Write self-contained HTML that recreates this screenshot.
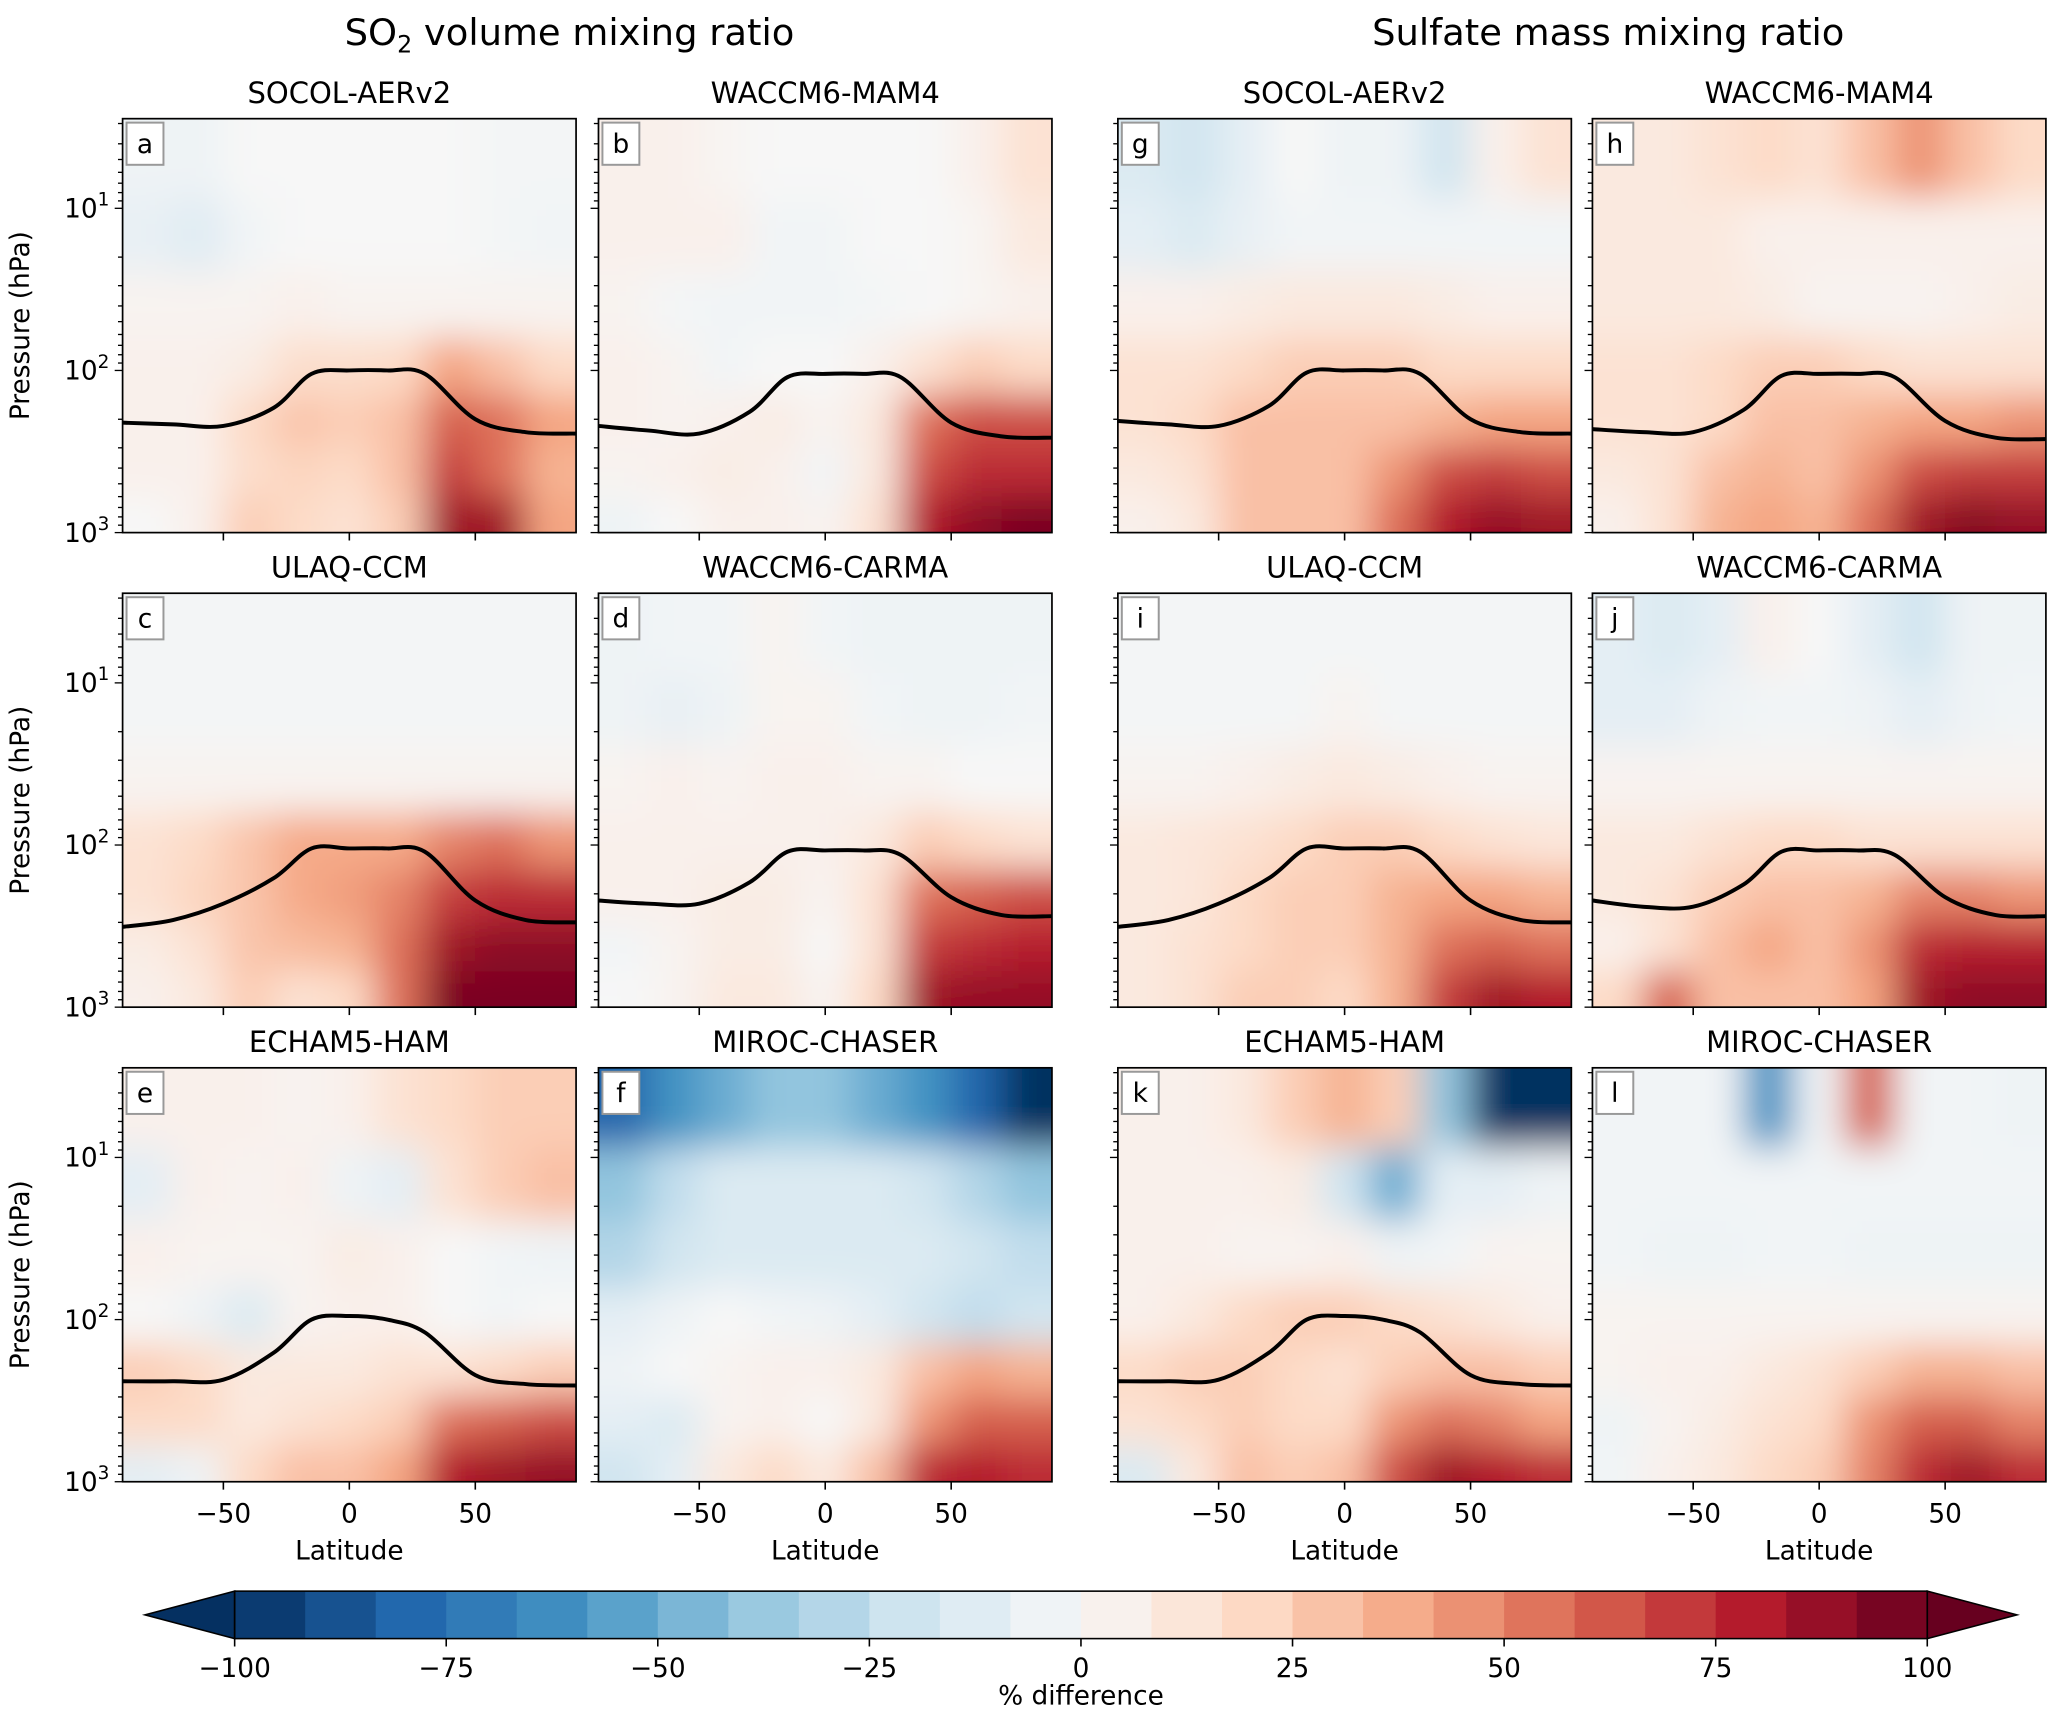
<!DOCTYPE html>
<html><head><meta charset="utf-8"><style>
html,body{margin:0;padding:0;background:#fff}
svg{display:block}
text{font-family:"DejaVu Sans","Liberation Sans",sans-serif;fill:#000}
</style></head><body>
<svg id="fig" xmlns="http://www.w3.org/2000/svg" width="2067" height="1723" viewBox="0 0 1568 1307">
<defs><filter id="bl" x="-20%" y="-20%" width="140%" height="140%"><feGaussianBlur stdDeviation="14"/></filter></defs>
<text x="432" y="34" font-size="28" text-anchor="middle">SO<tspan font-size="18" dy="6">2</tspan><tspan dy="-6"> volume mixing ratio</tspan></text>
<text x="1220" y="34" font-size="28" text-anchor="middle">Sulfate mass mixing ratio</text>
<g id="panels"></g>
<g id="cbar"></g>
</svg>
<script>
const pLevels=[5,15,40,100,200,450,800];
const lats=[-80,-60,-40,-20,0,20,40,60,80];
const tpLats=[-90,-70,-50,-30,-15,0,15,30,50,70,90];
const panelIds=['a','b','c','d','e','f','g','h','i','j','k','l'];
const panelTitles=['SOCOL-AERv2','WACCM6-MAM4','ULAQ-CCM','WACCM6-CARMA','ECHAM5-HAM','MIROC-CHASER','SOCOL-AERv2','WACCM6-MAM4','ULAQ-CCM','WACCM6-CARMA','ECHAM5-HAM','MIROC-CHASER'];
const vals_a=[[-5,-5,0,0,0,0,0,-2,-2],[-8,-12,-3,0,0,0,0,-2,-3],[3,3,3,5,3,3,3,3,3],[5,5,8,18,18,20,40,30,20],[5,5,20,28,25,30,60,55,40],[5,5,18,22,20,30,70,55,35],[0,5,25,20,15,25,85,85,40]];
const vals_b=[[5,5,2,0,0,0,0,5,15],[5,5,5,-3,-3,0,0,2,10],[3,-2,-3,-3,-3,-2,0,2,5],[5,3,-3,0,0,5,15,25,20],[5,3,5,8,3,10,55,65,65],[3,5,8,5,-3,10,65,75,75],[-5,0,5,5,3,15,80,90,95]];
const vals_c=[[-2,-2,-2,-2,-2,-2,-2,-2,-2],[-2,-2,-2,-2,-2,-2,-2,-2,-2],[3,3,3,3,3,3,3,3,3],[15,20,28,38,38,38,50,55,45],[15,22,28,38,42,50,70,75,75],[8,15,28,32,35,55,85,90,90],[5,10,25,15,20,55,95,95,95]];
const vals_d=[[-5,-3,-3,3,-3,-5,-5,-5,-5],[-5,-8,-5,3,3,-3,-5,-5,-3],[3,5,3,5,5,3,3,0,0],[5,5,5,5,5,10,25,20,15],[5,5,8,8,3,15,55,60,65],[-3,3,8,8,0,15,70,75,78],[0,3,10,10,3,20,85,88,88]];
const vals_e=[[5,5,5,3,5,15,20,25,25],[-10,5,3,5,-5,-10,15,25,30],[5,3,3,3,8,5,0,-3,-5],[0,-5,-15,3,5,5,0,-3,0],[25,20,10,10,10,15,15,20,25],[20,20,10,15,20,25,55,60,65],[-10,-5,20,30,30,40,80,85,88]];
const vals_f=[[-80,-60,-50,-40,-40,-50,-60,-80,-100],[-40,-25,-15,-15,-15,-15,-20,-30,-40],[-30,-20,-15,-15,-15,-15,-15,-20,-25],[-10,-5,0,-3,-5,-10,-20,-25,-20],[-5,0,3,5,5,10,30,40,35],[-10,-15,3,5,0,10,45,60,60],[-20,-10,10,20,10,30,75,80,75]];
const vals_g=[[-15,-20,-10,0,-5,-5,-20,5,15],[-10,-15,-8,-3,-3,-3,-3,-3,-3],[5,5,8,10,10,10,8,5,5],[15,15,20,25,25,25,20,20,20],[15,20,30,30,30,30,35,40,40],[10,15,30,30,30,45,65,70,65],[5,10,30,30,30,55,80,88,85]];
const vals_h=[[10,10,15,20,15,30,45,30,20],[10,10,10,5,5,5,5,5,5],[10,10,10,8,3,3,3,5,8],[15,15,20,25,25,20,15,15,15],[15,15,20,30,30,35,40,40,45],[10,15,30,35,30,45,65,70,70],[5,15,35,40,35,55,85,92,88]];
const vals_i=[[-2,-2,-2,-2,-2,-2,-2,-2,-2],[-2,-2,-2,-2,3,-2,-2,-2,-2],[3,3,5,8,10,8,5,3,3],[10,12,15,20,25,25,20,15,12],[10,12,20,25,25,35,40,40,35],[10,15,20,25,25,35,55,60,55],[10,15,25,25,20,35,70,85,80]];
const vals_j=[[-10,-15,-10,5,0,-10,-20,-5,-5],[-10,-10,-5,-3,-3,-5,-10,-5,-3],[3,3,3,3,3,3,3,3,3],[10,10,15,20,20,15,15,15,15],[10,15,25,30,30,35,50,50,45],[5,15,30,40,30,45,75,78,78],[20,60,30,30,30,40,85,90,90]];
const vals_k=[[5,5,10,25,35,25,-40,-100,-100],[5,5,5,8,-20,-50,-10,-10,-5],[5,5,3,3,5,-5,-3,3,3],[5,10,20,25,25,20,15,10,5],[20,25,25,20,15,25,30,30,25],[15,20,25,20,20,45,55,50,40],[-15,10,30,25,30,65,85,80,75]];
const vals_l=[[-3,-3,-3,-60,-3,60,-3,-3,-5],[-3,-3,-3,-3,-3,-3,-3,-3,-3],[-3,-5,-5,-3,-3,-5,-5,-5,-5],[3,3,3,3,3,3,3,3,3],[3,5,5,10,15,25,35,35,30],[-5,3,8,15,20,45,60,60,50],[-3,5,10,20,25,50,75,85,75]];
const tp_a=[210,215,220,170,105,100,100,105,200,240,245];
const tp_b=[220,235,245,180,110,105,105,110,210,255,260];
const tp_c=[320,290,230,160,105,105,105,110,220,290,300];
const tp_d=[220,230,230,170,110,108,108,115,210,270,275];
const tp_e=[240,240,235,160,100,95,100,120,220,250,255];
const tp_g=[205,215,220,165,103,100,100,105,200,240,245];
const tp_h=[230,240,240,175,108,105,105,110,205,260,265];
const tp_i=[320,290,230,160,105,105,105,110,220,290,300];
const tp_j=[220,240,240,175,110,108,108,115,210,270,275];
const tp_k=[240,240,235,160,100,95,100,120,220,250,255];
const allVals=[vals_a,vals_b,vals_c,vals_d,vals_e,vals_f,vals_g,vals_h,vals_i,vals_j,vals_k,vals_l];
const allTp=[tp_a,tp_b,tp_c,tp_d,tp_e,null,tp_g,tp_h,tp_i,tp_j,tp_k,null];
const cbTicks=[-100,-75,-50,-25,0,25,50,75,100];

const stops=['#053061','#2166ac','#4393c3','#92c5de','#d1e5f0','#f7f7f7','#fddbc7','#f4a582','#d6604d','#b2182b','#67001f'];
function hx(c){return [1,3,5].map(i=>parseInt(c.substr(i,2),16));}
function cmap(v){let t=(Math.max(-100,Math.min(100,v))+100)/200*10;let i=Math.min(9,Math.floor(t));let f=t-i;const a=hx(stops[i]),b=hx(stops[i+1]);return 'rgb('+a.map((x,k)=>Math.round(x+(b[k]-x)*f)).join(',')+')';}
const NS='http://www.w3.org/2000/svg';
function mk(tag,attrs,parent){const e=document.createElementNS(NS,tag);for(const k in attrs)e.setAttribute(k,attrs[k]);if(parent)parent.appendChild(e);return e;}
const colX=[93,454,848,1208],rowY=[90,450,810],W=344,H=314,DEC=123;
const root=document.getElementById('panels');
panelIds.forEach((id,n)=>{
  const col=n<6?(n%2):(2+(n-6)%2), row=n<6?Math.floor(n/2):Math.floor((n-6)/2);
  const x0=colX[col],y0=rowY[row];
  const xs=lat=>x0+(lat+90)/180*W;
  const ys=p=>y0+H-(3-Math.log10(p))*DEC;
  const g=mk('g',{},root);
  
  
  const cp=mk('clipPath',{id:'cp'+id},g);mk('rect',{x:x0,y:y0,width:W,height:H},cp);
  const clipG=mk('g',{'clip-path':'url(#cp'+id+')'},g);
  mk('rect',{x:x0,y:y0,width:W,height:H,fill:'#f7f7f7'},clipG);
  const bg=mk('g',{filter:'url(#bl)'},clipG);
  const vals=allVals[n];
  vals.forEach((r,i)=>{
    const pt=i==0?0.5:Math.sqrt(pLevels[i-1]*pLevels[i]);
    const pb=i==pLevels.length-1?3000:Math.sqrt(pLevels[i]*pLevels[i+1]);
    r.forEach((v,j)=>{
      const l0=j==0?-130:(lats[j-1]+lats[j])/2, l1=j==lats.length-1?130:(lats[j]+lats[j+1])/2;
      const c=mk('rect',{x:xs(l0),y:ys(pt),width:xs(l1)-xs(l0)+0.5,height:ys(pb)-ys(pt)+0.5,fill:cmap(v)},bg);
      
      
    });
  });
  const tp=allTp[n];
  if(tp){
    const P=tpLats.map((l,k)=>[xs(l),ys(tp[k])]);
    let d='M'+P[0][0].toFixed(1)+','+P[0][1].toFixed(1);
    for(let k=0;k<P.length-1;k++){
      const p0=P[Math.max(0,k-1)],p1=P[k],p2=P[k+1],p3=P[Math.min(P.length-1,k+2)];
      const c1=[p1[0]+(p2[0]-p0[0])/6,p1[1]+(p2[1]-p0[1])/6],c2=[p2[0]-(p3[0]-p1[0])/6,p2[1]-(p3[1]-p1[1])/6];
      d+='C'+c1.map(v=>v.toFixed(1)).join(',')+' '+c2.map(v=>v.toFixed(1)).join(',')+' '+p2.map(v=>v.toFixed(1)).join(',');
    }
    const tl=mk('path',{d:d,fill:'none',stroke:'#000','stroke-width':3,'stroke-linejoin':'round'},clipG);
    
    
  }
  mk('rect',{x:x0,y:y0,width:W,height:H,fill:'none',stroke:'#000','stroke-width':1.3},g);
  const lb=mk('g',{},g);
  
  
  mk('rect',{x:x0+3,y:y0+3,width:28,height:32,fill:'#fff',stroke:'#999','stroke-width':1.5},lb);
  const lt=mk('text',{x:x0+17,y:y0+26,'font-size':20,'text-anchor':'middle'},lb);lt.textContent=id;
  const tt=mk('text',{x:x0+W/2,y:y0-12,'font-size':22,'text-anchor':'middle'},g);tt.textContent=panelTitles[n];
  
  
  [-50,0,50].forEach(l=>{mk('line',{x1:xs(l),x2:xs(l),y1:y0+H,y2:y0+H+6,stroke:'#000','stroke-width':1.2},g);
    if(row==2){const t=mk('text',{x:xs(l),y:y0+H+31,'font-size':20,'text-anchor':'middle'},g);t.textContent=(l<0?'\u2212':'')+Math.abs(l);}});
  if(row==2){const xl=mk('text',{x:x0+W/2,y:y0+H+59,'font-size':20,'text-anchor':'middle'},g);xl.textContent='Latitude';
    }
  for(let e=0;e<=3;e++){for(let m=1;m<10;m++){const p=m*Math.pow(10,e);if(p<2.8||p>1000)continue;const y=ys(p);
    mk('line',{x1:x0-(m==1?6:3.5),x2:x0,y1:y,y2:y,stroke:'#000','stroke-width':1},g);
    if(m==1&&e>0&&col==0){const t=mk('text',{x:x0-10,y:y+7,'font-size':20,'text-anchor':'end'},g);t.innerHTML='10<tspan font-size="14" dy="-9">'+e+'</tspan>';}}}
  if(col==0){const yl=mk('text',{x:0,y:0,'font-size':20,'text-anchor':'middle',transform:'translate('+(x0-71)+','+(y0+H/2)+') rotate(-90)'},g);yl.textContent='Pressure (hPa)';
    }
});
const cb=document.getElementById('cbar');
const cx0=178,cx1=1462,cy=1207,ch=36,nb=24;
const cbx=v=>cx0+(v+100)/200*(cx1-cx0);
for(let i=0;i<nb;i++){const v0=-100+i*200/nb,v1=v0+200/nb;
  const r=mk('rect',{x:cbx(v0),y:cy,width:cbx(v1)-cbx(v0)+0.5,height:ch,fill:cmap((v0+v1)/2)},cb);
  
  }
mk('polygon',{points:`${cx0},${cy} ${110},${cy+ch/2} ${cx0},${cy+ch}`,fill:cmap(-100),stroke:'#000','stroke-width':1.2},cb);
mk('polygon',{points:`${cx1},${cy} ${1530},${cy+ch/2} ${cx1},${cy+ch}`,fill:cmap(100),stroke:'#000','stroke-width':1.2},cb);
mk('rect',{x:cx0,y:cy,width:cx1-cx0,height:ch,fill:'none',stroke:'#000','stroke-width':1.2},cb);
cbTicks.forEach(v=>{mk('line',{x1:cbx(v),x2:cbx(v),y1:cy+ch,y2:cy+ch+6,stroke:'#000','stroke-width':1.2},cb);
  const t=mk('text',{x:cbx(v),y:cy+ch+29,'font-size':20,'text-anchor':'middle'},cb);t.textContent=(v<0?'\u2212':'')+Math.abs(v);});
const cl=mk('text',{x:820,y:1293,'font-size':20,'text-anchor':'middle'},cb);cl.textContent='% difference';


</script>
</body></html>
